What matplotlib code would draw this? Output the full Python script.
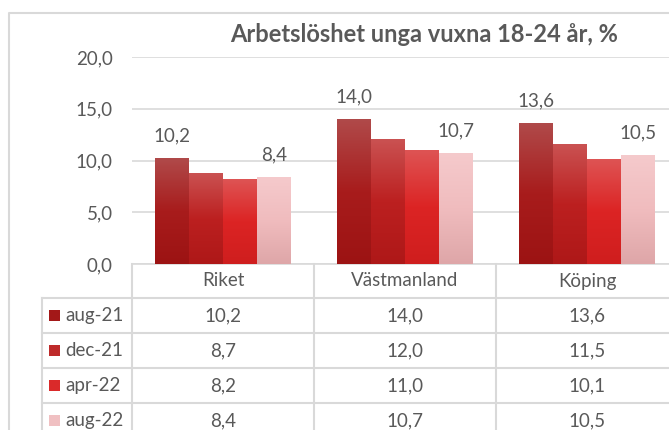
import numpy as np
import matplotlib
matplotlib.use("Agg")
import matplotlib.pyplot as plt
from matplotlib.colors import LinearSegmentedColormap

plt.rcParams['font.family'] = ['Lato', 'DejaVu Sans']

categories = ['Riket', 'Västmanland', 'Köping']
periods = ['aug-21', 'dec-21', 'apr-22', 'aug-22']
values = {
    'aug-21': [10.2, 14.0, 13.6],
    'dec-21': [8.7, 12.0, 11.5],
    'apr-22': [8.2, 11.0, 10.1],
    'aug-22': [8.4, 10.7, 10.5],
}
y_ticks = [0, 5, 10, 15, 20]
title = 'Arbetslöshet unga vuxna 18-24 år, %'

# bottom, middle, top of each gradient
gradients = {
    'aug-21': ['#9C1313', '#A81C1C', '#B04A4A'],
    'dec-21': ['#AE1818', '#BC2020', '#CA5252'],
    'apr-22': ['#CF1E1E', '#DC2424', '#DE5454'],
    'aug-22': ['#DEA6A8', '#F0BCBE', '#F5CACC'],
}
key_colors = {'aug-21': '#A31818', 'dec-21': '#BE2A2A', 'apr-22': '#DA2A2A', 'aug-22': '#F0C0C2'}

text_col = '#595959'
line_col = '#D9D9D9'
fs = 13.5

W, H = 669, 430
fig = plt.figure(figsize=(W / 100, H / 100), dpi=100)


def fx(px):
    return px / W


def fy(py):
    return 1 - py / H


# pixel overlay for border and table
bg = fig.add_axes([0, 0, 1, 1], zorder=0)
bg.set_xlim(0, W)
bg.set_ylim(H, 0)
bg.axis('off')

ax_l, ax_r, ax_t, ax_b = 132, 678, 57, 264
ax = fig.add_axes([fx(ax_l), fy(ax_b), fx(ax_r - ax_l), fy(ax_t) - fy(ax_b)], zorder=1)
ax.patch.set_alpha(0)

n = len(categories)
x = np.arange(n)
bw = 34 / 182
for i, p in enumerate(periods):
    xs = x + (i - 1.5) * bw
    bars = ax.bar(xs, values[p], bw, color=key_colors[p], zorder=2, linewidth=0)
    cmap = LinearSegmentedColormap.from_list(p, gradients[p])
    for r in bars:
        x0, w, h = r.get_x(), r.get_width(), r.get_height()
        ax.imshow(np.linspace(0, 1, 256).reshape(-1, 1), cmap=cmap, origin='lower',
                  extent=[x0, x0 + w, 0, h], aspect='auto', zorder=3)
    if i in (0, len(periods) - 1):
        for xi, v in zip(xs, values[p]):
            ax.annotate(f'{v:.1f}'.replace('.', ','), (xi, v), xytext=(0, 12),
                        textcoords='offset points', ha='center', va='baseline',
                        fontsize=fs, color=text_col, zorder=4)

ax.set_xlim(-0.5, n - 0.5)
ax.set_ylim(0, 20)
ax.set_yticks(y_ticks)
ax.set_yticklabels([f'{t:.1f}'.replace('.', ',') for t in y_ticks], fontsize=fs, color=text_col)
ax.set_xticks([])
ax.tick_params(axis='y', length=0, pad=14)
ax.grid(axis='y', color=line_col, linewidth=1.2, zorder=0)
ax.set_axisbelow(True)
for s in ['top', 'right', 'left']:
    ax.spines[s].set_visible(False)
ax.spines['bottom'].set_color(line_col)
ax.spines['bottom'].set_linewidth(1.2)

fig.text(fx(424), fy(35), title, ha='center', va='center', fontsize=17,
         fontweight='bold', color=text_col)

# chart border
bg.plot([9, 9, W + 5], [H + 5, 13, 13], color=line_col, lw=1.5)

# data table
col_edges = [132, 314, 496, 678]
row_edges = [298, 333, 368, 403, 438]
lw = 1.5
for cx in col_edges:
    bg.plot([cx, cx], [264, H + 5], color=line_col, lw=lw)
bg.plot([42, 42], [298, H + 5], color=line_col, lw=lw)
for ry in row_edges[:-1]:
    bg.plot([42, 678], [ry, ry], color=line_col, lw=lw)

for j, c in enumerate(categories):
    cx = (col_edges[j] + col_edges[j + 1]) / 2
    bg.text(cx, 281, c, ha='center', va='center', fontsize=fs, color=text_col)

for i, p in enumerate(periods):
    cy = (row_edges[i] + row_edges[i + 1]) / 2
    bg.add_patch(plt.Rectangle((49, cy - 5.5), 11, 11, color=key_colors[p], lw=0))
    bg.text(65, cy, p, ha='left', va='center', fontsize=fs, color=text_col)
    for j, v in enumerate(values[p]):
        cx = (col_edges[j] + col_edges[j + 1]) / 2
        bg.text(cx, cy, f'{v:.1f}'.replace('.', ','), ha='center', va='center',
                fontsize=fs, color=text_col)

fig.savefig('out.png', dpi=100)
